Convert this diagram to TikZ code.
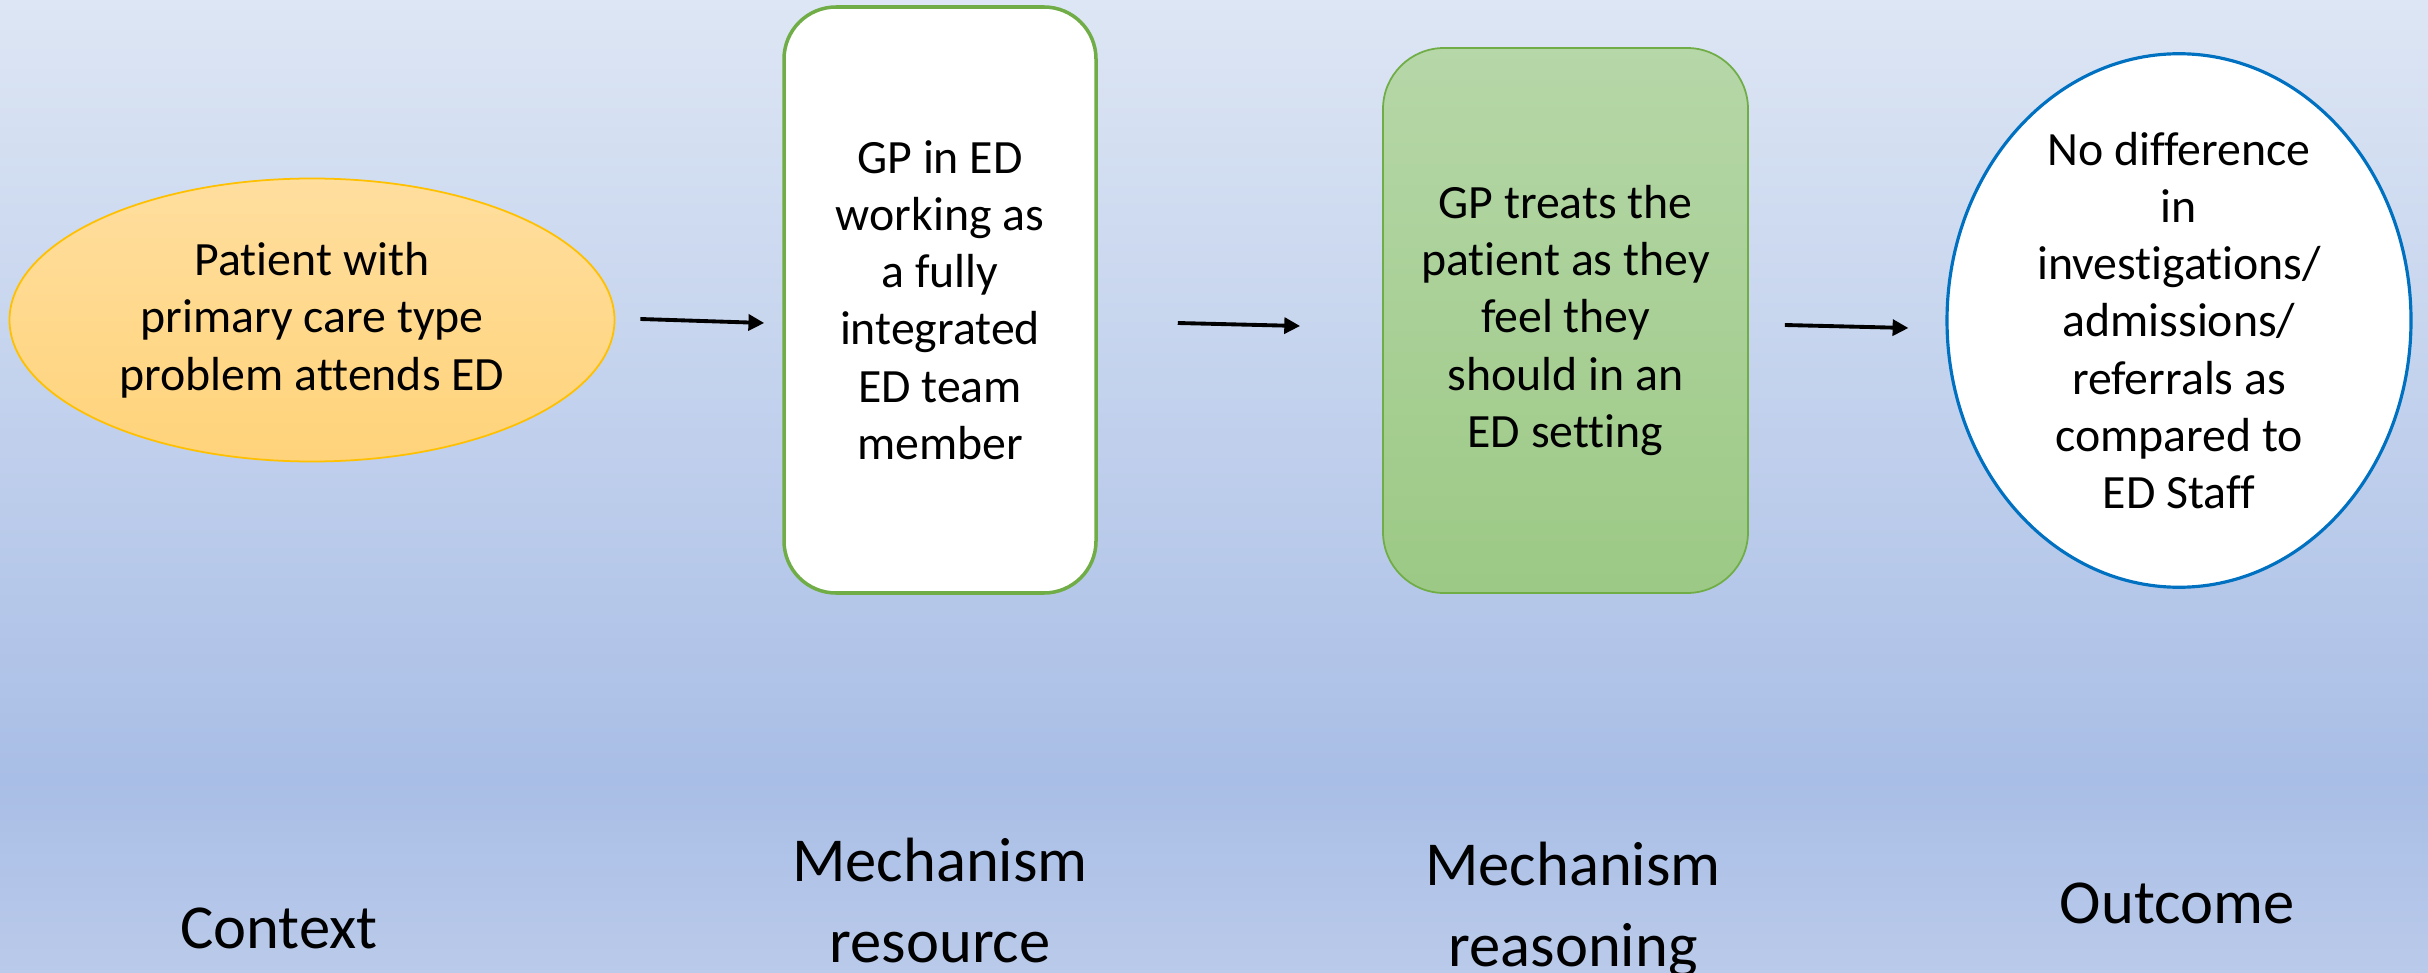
\documentclass[tikz,border=0pt]{standalone}
\usepackage{fontspec}
\setmainfont{Carlito}[Ligatures={NoCommon}]
\usepackage{tikz}
\usetikzlibrary{arrows.meta,calc,shapes.geometric}
\usepackage{xcolor}
\definecolor{bgtop}{HTML}{DDE6F4}
\definecolor{bgmid}{HTML}{A9BEE6}
\definecolor{bgbot}{HTML}{BACAEA}
\definecolor{ctxtop}{HTML}{FFDE9E}
\definecolor{ctxbot}{HTML}{FFD37A}
\definecolor{ctxline}{HTML}{FFC000}
\definecolor{gptop}{HTML}{B6D7A8}
\definecolor{gpbot}{HTML}{9CC985}
\definecolor{gpline}{HTML}{70AD47}
\definecolor{outline}{HTML}{0070C0}

\begin{document}
\begin{tikzpicture}[
  boxtext/.style={align=center, inner sep=0pt, font=\fontsize{13.6}{16.3}\selectfont},
  lbl/.style={align=center, anchor=base, font=\fontsize{17.8}{22.8}\selectfont},
  flow/.style={-{Triangle[length=4.5pt,width=4.5pt]}, line width=1.1pt}]
  % Background
  \shade[top color=bgtop, bottom color=bgmid] (0,0) rectangle (24.28,-7.8);
  \shade[top color=bgmid, bottom color=bgbot] (0,-7.8) rectangle (24.28,-9.73);
  \useasboundingbox (0,0) rectangle (24.28,-9.73);
  % Context
  \node[boxtext, ellipse, draw=ctxline, line width=0.5pt, top color=ctxtop, bottom color=ctxbot,
    minimum width=6.05cm, minimum height=2.83cm] (ctx) at (3.12,-3.20)
    {Patient with\\primary care type\\problem attends ED};
  % Mechanism resource
  \node[boxtext, rectangle, rounded corners=0.52cm, draw=gpline, line width=1pt, fill=white,
    minimum width=3.12cm, minimum height=5.86cm] (res) at (9.40,-3.00)
    {GP in ED\\working as\\a fully\\integrated\\ED team\\member};
  % Mechanism reasoning
  \node[boxtext, rectangle, rounded corners=0.61cm, draw=gpline, line width=0.5pt,
    top color=gptop, bottom color=gpbot,
    minimum width=3.65cm, minimum height=5.45cm] (rsn) at (15.655,-3.205)
    {GP treats the\\patient as they\\feel they\\should in an\\ED setting};
  % Outcome
  \node[boxtext, ellipse, draw=outline, line width=0.9pt, fill=white,
    minimum width=4.64cm, minimum height=5.09cm] (out) at (21.79,-3.205)
    {No difference\\in\\investigations/\\admissions/\\referrals as\\compared to\\ED Staff};
  % Arrows
  \draw[flow] ($(ctx.east)+(0.25,0.01)$) -- ($(ctx.east -| res.west)+(-0.18,-0.03)$);
  \draw[flow] ($(res.east |- ctx.east)+(0.80,-0.03)$) -- ($(ctx.east -| rsn.west)+(-0.82,-0.06)$);
  \draw[flow] ($(rsn.east |- ctx.east)+(0.36,-0.05)$) -- ($(ctx.east -| out.west)+(-0.37,-0.08)$);
  % Labels
  \node[lbl] (lctx) at (2.79,-9.48) {Context};
  \node[lbl] (lres) at (9.40,-9.62) {Mechanism\\resource};
  \node[lbl] (lrsn) at (15.73,-9.66) {Mechanism\\reasoning};
  \node[lbl] (lout) at (21.77,-9.23) {Outcome};
\end{tikzpicture}
\end{document}
